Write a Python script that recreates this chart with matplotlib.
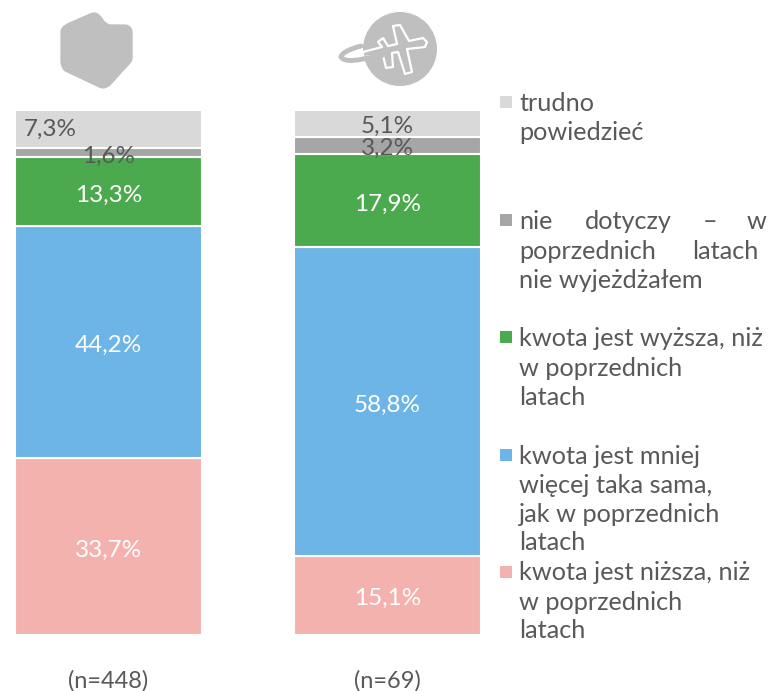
import matplotlib
matplotlib.use("Agg")
import matplotlib.pyplot as plt
from matplotlib.patches import Circle, PathPatch, Polygon, Rectangle
from matplotlib.path import Path

plt.rcParams['font.family'] = ['Lato', 'DejaVu Sans']

groups = ["(n=448)", "(n=69)"]
nizsza = [33.7, 15.1]
taka_sama = [44.2, 58.8]
wyzsza = [13.3, 17.9]
nie_dotyczy = [1.6, 3.2]
trudno = [7.3, 5.1]
series = [nizsza, taka_sama, wyzsza, nie_dotyczy, trudno]
colors = ["#F4B2AF", "#6CB5E6", "#4BAA4E", "#A6A6A6", "#D9D9D9"]
label_colors = ["white", "white", "white", "#595959", "#595959"]

W, H = 773, 691
GREY = "#BFBFBF"
TXT = "#595959"
FS = 17.5

fig = plt.figure(figsize=(W/100, H/100), dpi=100)

# background layer in pixel coords, for icons and legend
bg = fig.add_axes([0, 0, 1, 1])
bg.set_xlim(0, W)
bg.set_ylim(H, 0)
bg.axis('off')

# bars
ax = fig.add_axes([0, (H-635)/H, 1, 525/H])
ax.patch.set_alpha(0)
ax.set_xlim(-108.5/279, (W-108.5)/279)
ax.set_ylim(0, 100.1)
for s in ax.spines.values():
    s.set_visible(False)
ax.set_yticks([])
ax.set_xticks([0, 1])
ax.set_xticklabels(groups, fontsize=FS-0.5, color=TXT)
ax.tick_params(axis='x', length=0, pad=25)

bottom = [0, 0]
for vals, c, lc in zip(series, colors, label_colors):
    ax.bar([0, 1], vals, width=187/279, bottom=bottom, color=c, edgecolor="white", linewidth=1.5)
    for i, v in enumerate(vals):
        x = i
        dy = -1
        if v == 7.3:  # this label was dragged left and up in the original
            x = -0.21
            dy = 1
        ax.annotate(f"{v:.1f}%".replace(".", ","), (x, bottom[i]+v/2), xytext=(0, dy),
                    textcoords='offset points', ha='center', va='center_baseline',
                    color=lc, fontsize=FS)
    bottom = [bottom[0]+vals[0], bottom[1]+vals[1]]

# poland icon, thick round edge gives the soft corners
poland = [(71, 30), (94, 20), (96, 22), (99, 27), (107, 32), (125, 32), (125, 58), (105, 80),
          (103, 81), (69, 65), (68, 62), (68, 32)]
bg.add_patch(Polygon(poland, closed=True, fc=GREY, ec=GREY, lw=11, joinstyle='round'))

# plane icon
bg.add_patch(Circle((400, 49), 37, fc=GREY, ec='none'))
plane = [(427, 42), (423, 38), (409, 41), (400, 25), (393, 26), (397, 44), (388, 46), (383, 38),
         (378, 42), (382, 47), (363, 52), (363, 57), (383, 55), (386, 68), (393, 67), (392, 53),
         (398, 52), (405, 74), (412, 72), (407, 49), (425, 47)]
bg.add_patch(Polygon(plane, closed=True, fc=GREY, ec='white', lw=1.6, joinstyle='round'))
orbit = [(361, 46), (342, 51), (341, 57), (345, 63), (363, 59), (373, 57), (383, 55)]
orbit_codes = [Path.MOVETO, Path.CURVE3, Path.CURVE3, Path.CURVE3, Path.CURVE3, Path.CURVE3, Path.CURVE3]
bg.add_patch(PathPatch(Path(orbit, orbit_codes), fc='none', ec=GREY, lw=3.5, capstyle='round'))

# legend, line by line because two of the lines are justified
legend_boxes = [(96, 4), (214, 3), (331, 2), (449, 1), (566, 0)]
for y, i in legend_boxes:
    bg.add_patch(Rectangle((500, y), 12, 12, fc=colors[i], ec='none'))

legend_lines = [
    (519, 103, "trudno"), (519, 132, "powiedzieć"),
    (519, 221, "nie"), (585, 221, "dotyczy"), (703, 221, "–"), (747, 221, "w"),
    (519, 251, "poprzednich"), (692, 251, "latach"), (519, 280, "nie wyjeżdżałem"),
    (519, 338, "kwota jest wyższa, niż"), (519, 368, "w poprzednich"), (519, 397, "latach"),
    (519, 456, "kwota jest mniej"), (519, 485, "więcej taka sama,"),
    (519, 514, "jak w poprzednich"), (519, 543, "latach"),
    (519, 573, "kwota jest niższa, niż"), (519, 602, "w poprzednich"), (519, 631, "latach"),
]
for x, y, t in legend_lines:
    bg.text(x, y, t, color=TXT, fontsize=18.2, va='center', ha='left')

fig.savefig("out.png", dpi=100)
